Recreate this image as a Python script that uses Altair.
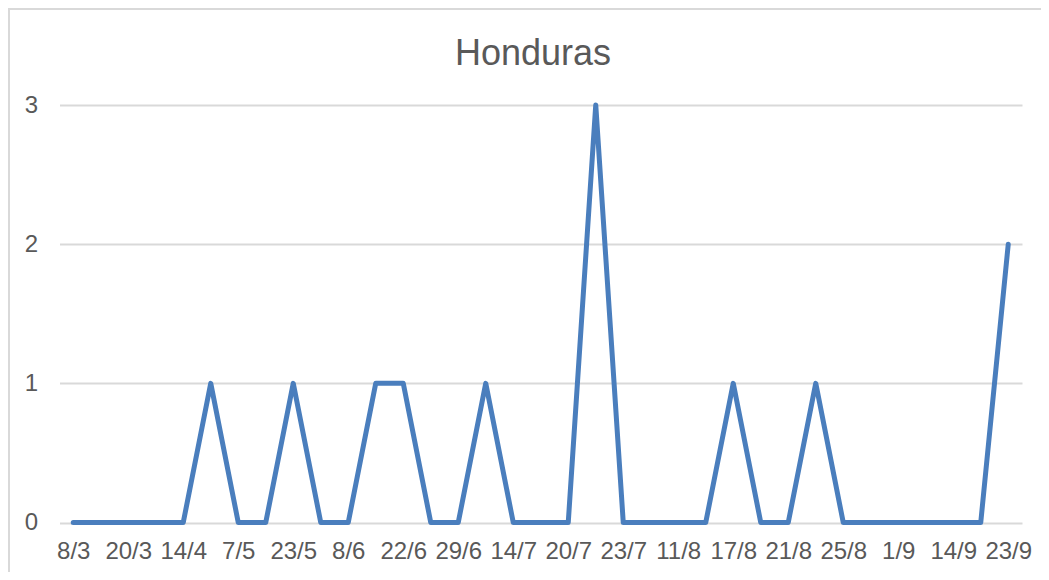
import altair as alt
import pandas as pd

title_text = "Honduras"
dates = ["8/3", "13/3", "20/3", "2/4", "14/4", "27/4", "7/5", "16/5", "23/5", "1/6",
         "8/6", "15/6", "22/6", "26/6", "29/6", "7/7", "14/7", "17/7", "20/7", "21/7",
         "23/7", "3/8", "11/8", "14/8", "17/8", "19/8", "21/8", "23/8", "25/8", "28/8",
         "1/9", "8/9", "14/9", "18/9", "23/9"]
values = [0, 0, 0, 0, 0, 1, 0, 0, 1, 0,
          0, 1, 1, 0, 0, 1, 0, 0, 0, 3,
          0, 0, 0, 0, 1, 0, 0, 1, 0, 0,
          0, 0, 0, 0, 2]
shown_labels = dates[::2]

df = pd.DataFrame({"date": dates, "value": values})
tdf = pd.DataFrame({"t": [title_text]})

W, H = 962.5, 417.5
FONT = "Liberation Sans"
GRAY = "#595959"

line = alt.Chart(df).mark_line(
    color="#4a7ebd", strokeWidth=5, strokeCap="round", strokeJoin="round"
).encode(
    x=alt.X("date:O", sort=dates, title=None,
            scale=alt.Scale(padding=0.5),
            axis=alt.Axis(values=shown_labels, labelAngle=0, labelOverlap=False,
                          ticks=False, domain=False, grid=False,
                          labelFontSize=24, labelColor=GRAY, labelFont=FONT,
                          labelPadding=17)),
    y=alt.Y("value:Q", title=None,
            scale=alt.Scale(domain=[0, 3], nice=False),
            axis=alt.Axis(values=[0, 1, 2, 3], ticks=False, domain=False,
                          gridColor="#d9d9d9", gridWidth=2,
                          labelFontSize=24, labelColor=GRAY, labelFont=FONT,
                          labelPadding=22)),
)

# chart frame: only top and left edges are visible in the reference
frame = alt.Chart(tdf).mark_rect(
    fill=None, stroke="#d9d9d9", strokeWidth=2, clip=False
).encode(
    x=alt.value(-50.5), x2=alt.value(W + 40),
    y=alt.value(-96), y2=alt.value(H + 80),
)

title = alt.Chart(tdf).mark_text(
    font=FONT, fontSize=36, color=GRAY, align="center", baseline="alphabetic"
).encode(
    text="t:N", x=alt.value(473.5), y=alt.value(-40),
)

chart = alt.layer(frame, line, title).properties(
    width=W, height=H,
    autosize=alt.AutoSizeParams(type="none"),
    padding={"left": 51.5, "top": 97, "right": 19, "bottom": 49.5},
).configure_view(stroke=None)

chart.save("out.html", embed_options={"renderer": "svg", "actions": False})
